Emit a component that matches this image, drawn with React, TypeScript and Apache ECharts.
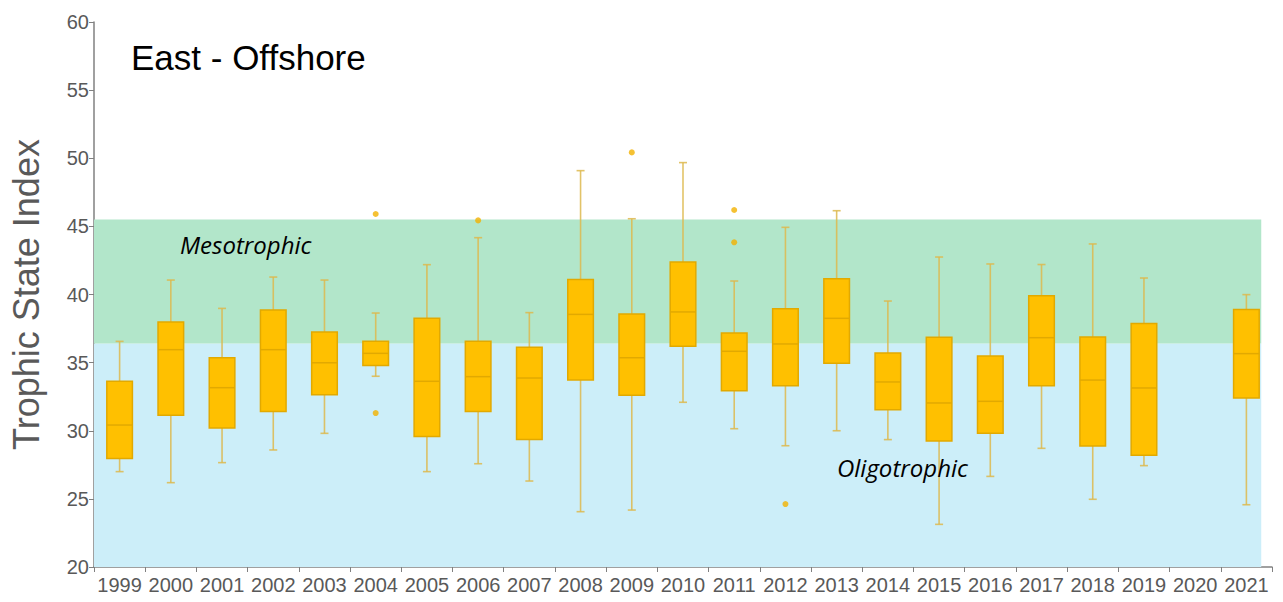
import React, { useEffect, useRef } from "react";
import * as echarts from "echarts";

const years = ["1999","2000","2001","2002","2003","2004","2005","2006","2007","2008","2009","2010","2011","2012","2013","2014","2015","2016","2017","2018","2019","2020","2021"];

// [min, q1, median, q3, max] per year (null = no data)
const boxStats: (number[] | null)[] = [
  [27.0, 27.97, 30.42, 33.63, 36.56],
  [26.19, 31.13, 35.95, 37.98, 41.06],
  [27.66, 30.2, 33.16, 35.36, 38.98],
  [28.59, 31.42, 35.95, 38.86, 41.28],
  [29.81, 32.65, 34.99, 37.25, 41.06],
  [34.0, 34.78, 35.68, 36.56, 38.64],
  [27.0, 29.57, 33.63, 38.25, 42.19],
  [27.58, 31.42, 33.97, 36.56, 44.17],
  [26.31, 29.35, 33.87, 36.12, 38.67],
  [24.06, 33.72, 38.54, 41.11, 49.09],
  [24.18, 32.6, 35.36, 38.57, 45.56],
  [32.09, 36.2, 38.72, 42.39, 49.68],
  [30.15, 32.94, 35.83, 37.17, 40.99],
  [28.9, 33.31, 36.37, 38.96, 44.93],
  [30.0, 34.95, 38.25, 41.16, 46.15],
  [29.35, 31.55, 33.58, 35.71, 39.52],
  [23.13, 29.25, 32.04, 36.86, 42.75],
  [26.65, 29.81, 32.16, 35.49, 42.24],
  [28.71, 33.31, 36.83, 39.91, 42.2],
  [24.97, 28.88, 33.72, 36.88, 43.71],
  [27.44, 28.2, 33.14, 37.88, 41.21],
  null,
  [24.57, 32.4, 35.66, 38.89, 39.99],
];

const outlierYears = ["2004", "2004", "2006", "2009", "2011", "2011", "2012"];
const outlierValues = [45.91, 31.3, 45.44, 50.43, 46.2, 43.83, 24.62];

const mesoRange = [36.4, 45.5];
const oligoRange = [20, 36.4];
const bandEnd = 22.79;

const yTicks = { min: 20, max: 60, interval: 5 };

export default function App() {
  const ref = useRef<HTMLDivElement>(null);
  useEffect(() => {
    if (!ref.current) return;
    const chart = echarts.init(ref.current, undefined, { renderer: "svg" });
    const boxData = boxStats
      .map((s, i) => (s ? [i, ...s] : null))
      .filter((d) => d !== null);
    const gray = "#595959";
    chart.setOption({
      animation: false,
      grid: { left: 89, right: 11, top: 22, bottom: 35 },
      title: {
        text: "East - Offshore",
        left: 126,
        top: 35,
        textStyle: { fontFamily: "Liberation Sans", fontSize: 35, fontWeight: "normal", color: "#000" },
      },
      graphic: [
        {
          type: "text",
          left: 180,
          top: 232,
          style: { text: "Mesotrophic", font: "italic 24px 'Open Sans'", fill: "#000" },
          z: 100,
        },
        {
          type: "text",
          left: 837,
          top: 455,
          style: { text: "Oligotrophic", font: "italic 24px 'Open Sans'", fill: "#000" },
          z: 100,
        },
      ],
      xAxis: [
        {
          type: "category",
          data: years,
          axisLine: { lineStyle: { color: "#808080", width: 1.5 } },
          axisTick: { show: true, length: 5, lineStyle: { color: "#808080" } },
          axisLabel: { color: gray, fontFamily: "Liberation Sans", fontSize: 20, margin: 8, interval: 0 },
        },
        { type: "value", min: 0, max: 23, show: false },
      ],
      yAxis: {
        type: "value",
        min: yTicks.min,
        max: yTicks.max,
        interval: yTicks.interval,
        name: "Trophic State Index",
        nameLocation: "middle",
        nameGap: 50,
        nameTextStyle: { color: gray, fontFamily: "Liberation Sans", fontSize: 36 },
        axisLine: { show: true, lineStyle: { color: "#808080", width: 1.5 } },
        axisTick: { show: true, length: 5, lineStyle: { color: "#808080" } },
        axisLabel: { color: gray, fontFamily: "Liberation Sans", fontSize: 20, margin: 5 },
        splitLine: { show: false },
      },
      series: [
        {
          type: "line",
          xAxisIndex: 1,
          data: [],
          silent: true,
          markArea: {
            silent: true,
            data: [
              [
                { xAxis: 0, yAxis: oligoRange[0], itemStyle: { color: "#CCEEF9" } },
                { xAxis: bandEnd, yAxis: oligoRange[1] },
              ],
              [
                { xAxis: 0, yAxis: mesoRange[0], itemStyle: { color: "#B2E6CA" } },
                { xAxis: bandEnd, yAxis: mesoRange[1] },
              ],
            ],
          },
        },
        {
          type: "custom",
          data: boxData,
          z: 5,
          renderItem: (params: any, api: any) => {
            const idx = api.value(0);
            const x = api.coord([idx, 0])[0];
            const bw = api.size([1, 0])[0] * 0.5;
            const capW = 8;
            const yMin = api.coord([idx, api.value(1)])[1];
            const yQ1 = api.coord([idx, api.value(2)])[1];
            const yMed = api.coord([idx, api.value(3)])[1];
            const yQ3 = api.coord([idx, api.value(4)])[1];
            const yMax = api.coord([idx, api.value(5)])[1];
            const whisker = { stroke: "#DDB84E", lineWidth: 1.6, opacity: 0.85 };
            const border = "#E2A900";
            return {
              type: "group",
              children: [
                { type: "line", shape: { x1: x, y1: yMax, x2: x, y2: yQ3 }, style: whisker },
                { type: "line", shape: { x1: x, y1: yQ1, x2: x, y2: yMin }, style: whisker },
                { type: "line", shape: { x1: x - capW / 2, y1: yMax, x2: x + capW / 2, y2: yMax }, style: whisker },
                { type: "line", shape: { x1: x - capW / 2, y1: yMin, x2: x + capW / 2, y2: yMin }, style: whisker },
                {
                  type: "rect",
                  shape: { x: x - bw / 2, y: yQ3, width: bw, height: yQ1 - yQ3 },
                  style: { fill: "#FFC000", stroke: border, lineWidth: 1.5 },
                },
                {
                  type: "line",
                  shape: { x1: x - bw / 2, y1: yMed, x2: x + bw / 2, y2: yMed },
                  style: { stroke: border, lineWidth: 1.5 },
                },
              ],
            };
          },
        },
        {
          type: "scatter",
          data: outlierYears.map((y, i) => [y, outlierValues[i]]),
          symbolSize: 6,
          itemStyle: { color: "#F2B200" },
          z: 6,
        },
      ],
    });
    return () => chart.dispose();
  }, []);
  return <div ref={ref} style={{ width: 1283, height: 602, position: "absolute", left: 0, top: 0 }} />;
}
